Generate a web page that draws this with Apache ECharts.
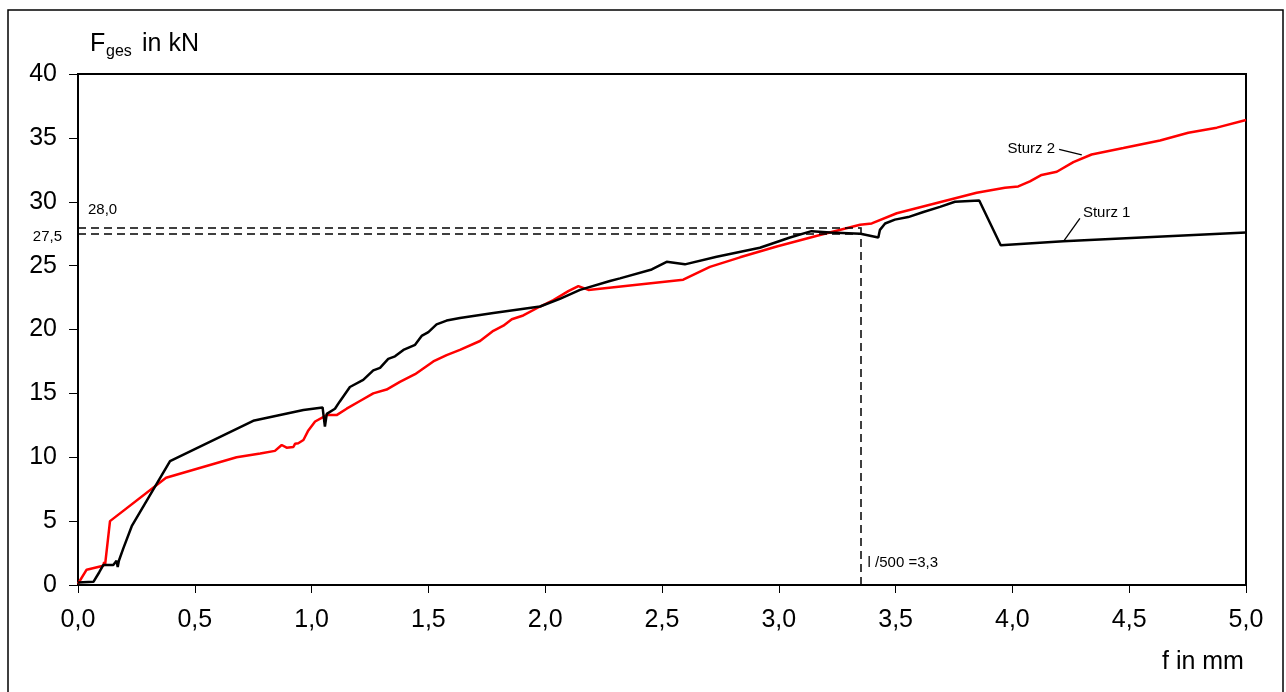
<!DOCTYPE html>
<html>
<head>
<meta charset="utf-8">
<script src="https://cdn.jsdelivr.net/npm/echarts@6/dist/echarts.min.js"></script>
<style>
html,body{margin:0;padding:0;background:#fff;}
#chart{width:1286px;height:692px;}
</style>
</head>
<body>
<div id="chart"></div>
<script>
// Sturz 1 (black)
var sturz1F = [0, 0.066, 0.091, 0.108, 0.151, 0.165, 0.170, 0.175, 0.194, 0.23, 0.394, 0.75, 0.965, 1.047, 1.057, 1.065, 1.10, 1.12, 1.164, 1.221, 1.264, 1.293, 1.328, 1.357, 1.393, 1.443, 1.471, 1.5, 1.535, 1.578, 1.635, 1.778, 1.978, 2.063, 2.149, 2.277, 2.32, 2.456, 2.52, 2.598, 2.734, 2.919, 3.048, 3.14, 3.22, 3.35, 3.426, 3.433, 3.455, 3.497, 3.554, 3.619, 3.69, 3.754, 3.858, 3.95, 4.218, 5.0];
var sturz1Load = [0.2, 0.25, 1.0, 1.56, 1.56, 1.9, 1.4, 1.9, 2.87, 4.6, 9.7, 12.85, 13.7, 13.9, 12.4, 13.4, 13.8, 14.35, 15.5, 16.05, 16.8, 17.0, 17.7, 17.9, 18.4, 18.8, 19.5, 19.8, 20.4, 20.7, 20.9, 21.3, 21.8, 22.4, 23.1, 23.8, 24.0, 24.7, 25.3, 25.1, 25.7, 26.4, 27.2, 27.7, 27.6, 27.5, 27.2, 27.8, 28.3, 28.6, 28.8, 29.2, 29.6, 30.0, 30.1, 26.6, 26.9, 27.6];
// Sturz 2 (red)
var sturz2F = [0, 0.037, 0.108, 0.112, 0.116, 0.137, 0.377, 0.679, 0.78, 0.843, 0.872, 0.893, 0.922, 0.929, 0.943, 0.965, 0.986, 1.015, 1.065, 1.107, 1.15, 1.207, 1.264, 1.321, 1.378, 1.443, 1.521, 1.578, 1.635, 1.721, 1.778, 1.821, 1.857, 1.906, 1.978, 2.035, 2.099, 2.142, 2.185, 2.591, 2.705, 2.834, 2.991, 3.176, 3.348, 3.398, 3.505, 3.676, 3.847, 3.968, 4.025, 4.075, 4.125, 4.19, 4.261, 4.339, 4.475, 4.632, 4.753, 4.875, 5.0];
var sturz2Load = [0.1, 1.2, 1.5, 1.8, 1.6, 5.0, 8.4, 10.0, 10.3, 10.5, 10.96, 10.75, 10.8, 11.05, 11.1, 11.35, 12.1, 12.8, 13.3, 13.3, 13.8, 14.4, 15.0, 15.3, 15.9, 16.5, 17.5, 18.0, 18.4, 19.1, 19.9, 20.3, 20.8, 21.1, 21.8, 22.3, 23.0, 23.4, 23.1, 23.9, 24.9, 25.65, 26.5, 27.4, 28.2, 28.3, 29.1, 29.9, 30.7, 31.1, 31.2, 31.6, 32.1, 32.35, 33.1, 33.7, 34.2, 34.8, 35.4, 35.8, 36.4];
// reference values
var limitF = 3.35;
var refLoads = [28.0, 27.5];
var refLabels = ['28,0', '27,5'];
var limitLabel = 'l /500 =3,3';
var seriesNames = ['Sturz 1', 'Sturz 2'];

function zip(a, b) { return a.map(function (v, i) { return [v, b[i]]; }); }
var FONT = '"Liberation Sans", Arial, sans-serif';

var chart = echarts.init(document.getElementById('chart'));
var option = {
  animation: false,
  backgroundColor: '#fff',
  grid: { left: 78, top: 74, width: 1168, height: 511, show: true, borderColor: '#000', borderWidth: 2, backgroundColor: 'transparent' },
  xAxis: {
    type: 'value', min: 0, max: 5, interval: 0.5,
    axisLine: { lineStyle: { color: '#000', width: 2 } },
    axisTick: { show: true, length: 8, lineStyle: { color: '#000', width: 1 } },
    axisLabel: { margin: 23, fontSize: 25, color: '#000', fontFamily: FONT,
      formatter: function (v) { return v.toFixed(1).replace('.', ','); } },
    splitLine: { show: false }
  },
  yAxis: {
    type: 'value', min: 0, max: 40, interval: 5,
    axisLine: { show: true, lineStyle: { color: '#000', width: 2 } },
    axisTick: { show: true, length: 9, lineStyle: { color: '#000', width: 1 } },
    axisLabel: { margin: 21, fontSize: 25, color: '#000', fontFamily: FONT },
    splitLine: { show: false }
  },
  graphic: [
    { type: 'rect', shape: { x: 8, y: 10, width: 1275, height: 700 }, style: { fill: 'none', stroke: '#000', lineWidth: 1.5 }, silent: true },
    { type: 'text', x: 90, y: 44, style: { text: 'F', font: '25px ' + FONT, fill: '#000', verticalAlign: 'middle' } },
    { type: 'text', x: 106, y: 52, style: { text: 'ges', font: '16px ' + FONT, fill: '#000', verticalAlign: 'middle' } },
    { type: 'text', x: 142, y: 44, style: { text: 'in kN', font: '25px ' + FONT, fill: '#000', verticalAlign: 'middle' } },
    { type: 'text', x: 1162, y: 662, style: { text: 'f in mm', font: '25px ' + FONT, fill: '#000', verticalAlign: 'middle' } }
  ],
  series: [
    {
      name: seriesNames[0], type: 'line', data: zip(sturz1F, sturz1Load), showSymbol: false, symbol: 'none',
      lineStyle: { color: '#000', width: 2.5 }, z: 3,
      markLine: {
        silent: true, symbol: ['none', 'none'], label: { show: false },
        lineStyle: { color: '#000', width: 1.5, type: [8, 5] },
        data: [
          [{ coord: [0, refLoads[0]] }, { coord: [limitF, refLoads[0]] }],
          [{ coord: [0, refLoads[1]] }, { coord: [limitF, refLoads[1]] }],
          [{ coord: [limitF, 0] }, { coord: [limitF, refLoads[0]] }],
          [{ coord: [4.289, 28.7], lineStyle: { type: 'solid', width: 1.3 } }, { coord: [4.218, 26.87] }],
          [{ coord: [4.20, 34.1], lineStyle: { type: 'solid', width: 1.3 } }, { coord: [4.297, 33.66] }]
        ]
      },
      markPoint: {
        silent: true, symbol: 'circle', symbolSize: 0,
        label: { show: true, color: '#000', fontSize: 15, fontFamily: FONT },
        data: [
          { coord: [0, 29.35], value: refLabels[0], label: { position: 'right', distance: 10, formatter: refLabels[0] } },
          { coord: [0, 27.25], value: refLabels[1], label: { position: 'left', distance: 16, formatter: refLabels[1] } },
          { coord: [limitF, 1.72], value: limitLabel, label: { position: 'right', distance: 7, formatter: limitLabel } },
          { coord: [4.20, 34.15], value: seriesNames[1], label: { position: 'left', distance: 4, formatter: seriesNames[1] } },
          { coord: [4.289, 29.15], value: seriesNames[0], label: { position: 'right', distance: 3, formatter: seriesNames[0] } }
        ]
      }
    },
    {
      name: seriesNames[1], type: 'line', data: zip(sturz2F, sturz2Load), showSymbol: false, symbol: 'none',
      lineStyle: { color: '#ff0000', width: 2.5 }, z: 2
    }
  ]
};
chart.setOption(option);
</script>
</body>
</html>
